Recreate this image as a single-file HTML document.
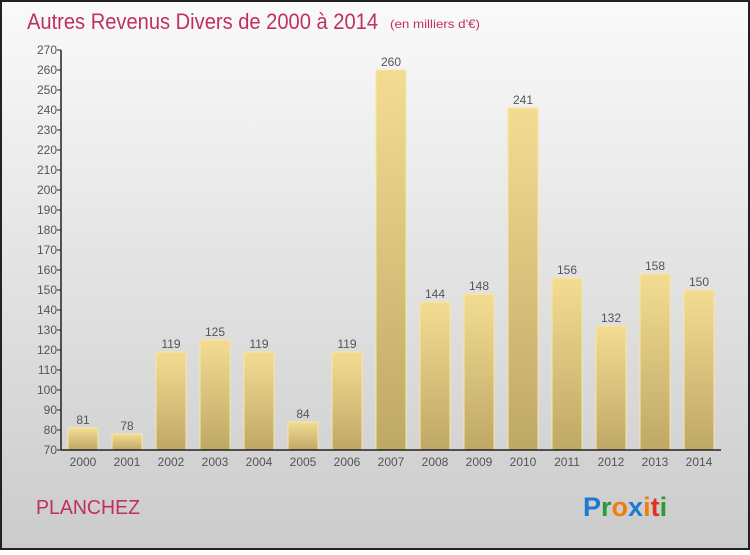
<!DOCTYPE html>
<html><head><meta charset="utf-8"><style>
html,body{margin:0;padding:0}
body{width:750px;height:550px;overflow:hidden;font-family:"Liberation Sans",sans-serif}
</style></head><body>
<svg width="750" height="550" xmlns="http://www.w3.org/2000/svg">
<defs>
<linearGradient id="bg" x1="0" y1="0" x2="0" y2="1"><stop offset="0" stop-color="#fafafa"/><stop offset="1" stop-color="#cbcbcb"/></linearGradient>
<linearGradient id="bar" x1="0" y1="0" x2="0" y2="1"><stop offset="0" stop-color="#f3dc92"/><stop offset="1" stop-color="#bfa866"/></linearGradient>
</defs>
<rect x="1" y="1" width="748" height="548" fill="url(#bg)" stroke="#222" stroke-width="2"/>
<text x="27" y="29" font-size="22" fill="#c0305f" textLength="351" lengthAdjust="spacingAndGlyphs">Autres Revenus Divers de 2000 à 2014</text>
<text x="390" y="28" font-size="12" fill="#c0305f" textLength="90" lengthAdjust="spacingAndGlyphs">(en milliers d'€)</text>
<g id="plot"></g>
<text x="36" y="514" font-size="20" fill="#c0305f" textLength="104" lengthAdjust="spacingAndGlyphs">PLANCHEZ</text>
<text x="583" y="516" font-size="27" font-weight="bold"><tspan fill="#1e7ad0">P</tspan><tspan fill="#2a9a3a">r</tspan><tspan fill="#f07d10">o</tspan><tspan fill="#1e7ad0">x</tspan><tspan fill="#f07d10">i</tspan><tspan fill="#e03020">t</tspan><tspan fill="#2a9a3a">i</tspan></text>
</svg>
<script>
const categories=["2000","2001","2002","2003","2004","2005","2006","2007","2008","2009","2010","2011","2012","2013","2014"];
const values=[81,78,119,125,119,84,119,260,144,148,241,156,132,158,150];
const yTicks=[70,80,90,100,110,120,130,140,150,160,170,180,190,200,210,220,230,240,250,260,270];
const NS="http://www.w3.org/2000/svg";
const g=document.getElementById('plot');
const x0=61,x1=721,yb=450,yt=50,vmin=70,vmax=270;
const y=v=>yb-(v-vmin)/(vmax-vmin)*(yb-yt);
const step=(x1-x0)/categories.length;
const xc=i=>x0+step*(i+0.5);
function mk(t,a){const e=document.createElementNS(NS,t);for(const k in a)e.setAttribute(k,a[k]);g.appendChild(e);return e;}
yTicks.forEach(v=>{
  const l=mk('line',{x1:x0-4,x2:x0,y1:y(v),y2:y(v),stroke:'#222'});
  
  
  const t=mk('text',{x:x0-4,y:y(v)+4,'text-anchor':'end','font-size':12,fill:'#555'});
  t.textContent=v;
  
  
});
categories.forEach((c,i)=>{
  const r=mk('rect',{x:xc(i)-15,y:y(values[i]),width:30,height:yb-y(values[i]),fill:'url(#bar)',stroke:'#f8e8a0','stroke-width':1});
  
  
  const v=mk('text',{x:xc(i),y:y(values[i])-4,'text-anchor':'middle','font-size':12,fill:'#555'});
  v.textContent=values[i];
  
  
  const t=mk('text',{x:xc(i),y:466,'text-anchor':'middle','font-size':12,fill:'#555'});
  t.textContent=c;
  
  
});
const ya=mk('line',{x1:x0,x2:x0,y1:yt,y2:yb,stroke:'#222','stroke-width':1.5});


const xa=mk('line',{x1:x0,x2:x1,y1:yb,y2:yb,stroke:'#222','stroke-width':1.5});


</script>
</body></html>
